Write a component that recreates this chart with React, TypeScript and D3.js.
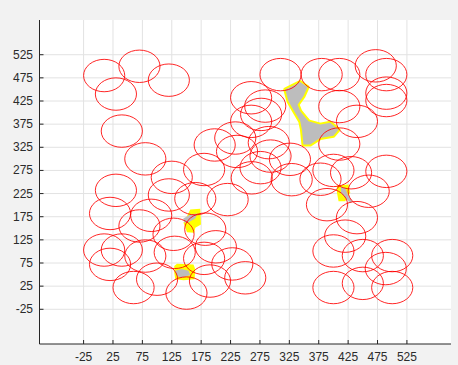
import React from 'react';
import * as d3 from 'd3';

// Sensor disk centres (data units); every disk has the same radius.
const circleX = [
  10, 70, 120, 30, 40, 80,
  125, 30, 20, 90, 70, 120,
  10, 40, 130, 20, 80, 60, 100, 150, 128,
  190, 250, 228, 180, 200, 182, 165, 220,
  180, 236, 276, 261, 293, 326, 329, 198, 233, 290, 260, 277, 284, 260, 310,
  380, 410, 472, 490, 490, 490, 410, 440, 410, 378, 400, 430, 490,
  460, 389, 440, 420, 400, 450, 500, 489, 400, 450, 500,
];
const circleY = [
  480, 500, 470, 440, 360, 300,
  260, 232, 182, 178, 155, 222,
  103, 103, 98, 72, 90, 22, 40, 10, 137,
  36, 43, 73, 85, 110, 148, 214, 212,
  277, 316, 281, 259, 306, 299, 255, 330, 345, 335, 381, 396, 414, 432, 482,
  482, 482, 501, 482, 442, 426, 413, 381, 332, 256, 275, 270, 273,
  230, 201, 173, 133, 101, 91, 91, 63, 22, 31, 22,
];
const RADIUS = 35;

const tickValues = [-25, 25, 75, 125, 175, 225, 275, 325, 375, 425, 475, 525];

// Coverage holes (uncovered area) and their highlighted neighbourhoods.
const holeLarge: [number, number][] = [
  [343.5, 466], [356, 455], [349, 435], [339, 417], [343.5, 403], [357.6, 381],
  [377.6, 374], [394.6, 378], [408.7, 363], [400, 350], [377.6, 345], [360.5, 331],
  [349, 331], [346.4, 363], [343.5, 381], [335, 399], [323.6, 424], [318, 450],
];
const holeSmallA: [number, number][] = [
  [131, 58], [142, 62], [153.6, 58], [156.5, 49], [142, 43.4], [133.8, 47],
];
const holeSmallB: [number, number][] = [
  [144.6, 171.3], [156.5, 180], [168.4, 182], [165, 171.3], [153, 162.7], [146, 162.7],
];
const holeSmallC: [number, number][] = [
  [412.7, 239.7], [420, 237.5], [425.7, 219.4], [433.2, 207.3], [428.6, 205.2],
  [420, 216], [412.7, 226.7],
];
const patchA: [number, number][] = [
  [129.2, 68.4], [133.8, 73.6], [162, 72], [165, 61.3], [163.8, 39.7], [145, 37.6],
  [131, 39.7], [129.2, 54.2],
];
const patchB: [number, number][] = [
  [156.5, 190.7], [173.5, 192.2], [174.7, 158.3], [165, 151.2], [163.3, 140.4],
  [150.8, 141.7], [145, 162], [150.8, 176],
];
const patchC: [number, number][] = [
  [406, 242.5], [425.7, 244.6], [428.6, 226.7], [420, 208.6], [408.7, 208.6], [406, 226.7],
];

export default function App() {
  const W = 458;
  const H = 365;
  const left = 39.5;
  const right = 451;
  const top = 20;
  const bottom = 344;

  const x = d3.scaleLinear().domain([-100, 600]).range([left, right]);
  const y = d3.scaleLinear().domain([-100, 600]).range([bottom, top]);

  const rx = x(RADIUS) - x(0);
  const ry = y(0) - y(RADIUS);

  const poly = d3
    .line<[number, number]>()
    .x((d) => x(d[0]))
    .y((d) => y(d[1]))
    .curve(d3.curveLinearClosed);

  const font = '"Liberation Sans", Arial, Helvetica, sans-serif';
  const textColor = '#2b2b2b';
  const axisColor = '#262626';
  const gridColor = '#e2e2e2';
  const holeGray = '#bdbdbd';
  const yellow = '#ffff00';

  return (
    <svg
      width={W}
      height={H}
      style={{ position: 'absolute', left: 0, top: 0 }}
      xmlns="http://www.w3.org/2000/svg"
    >
      <rect x={0} y={0} width={W} height={H} fill="#f2f2f2" />
      <rect x={left} y={top} width={right - left} height={bottom - top} fill="#ffffff" />

      {/* grid */}
      {tickValues.map((t) => (
        <line key={'gx' + t} x1={x(t)} x2={x(t)} y1={top} y2={bottom} stroke={gridColor} strokeWidth={1} />
      ))}
      {tickValues.map((t) => (
        <line key={'gy' + t} x1={left} x2={right} y1={y(t)} y2={y(t)} stroke={gridColor} strokeWidth={1} />
      ))}

      {/* highlighted neighbourhoods of the holes */}
      {[patchA, patchB, patchC].map((p, i) => (
        <path key={'p' + i} d={poly(p) ?? ''} fill={yellow} />
      ))}
      <path d={poly(holeLarge) ?? ''} fill={yellow} stroke={yellow} strokeWidth={4} strokeLinejoin="round" />

      {/* uncovered holes */}
      {[holeLarge, holeSmallA, holeSmallB, holeSmallC].map((p, i) => (
        <path key={'h' + i} d={poly(p) ?? ''} fill={holeGray} />
      ))}

      {/* sensing disks */}
      {circleX.map((cx, i) => (
        <ellipse
          key={'c' + i}
          cx={x(cx)}
          cy={y(circleY[i])}
          rx={rx}
          ry={ry}
          fill="none"
          stroke="#ff0000"
          strokeOpacity={0.85}
          strokeWidth={1}
        />
      ))}

      {/* axes */}
      <line x1={left} x2={left} y1={top} y2={bottom} stroke={axisColor} strokeWidth={1} />
      <line x1={left} x2={right} y1={bottom} y2={bottom} stroke={axisColor} strokeWidth={1} />
      {tickValues.map((t) => (
        <line key={'tx' + t} x1={x(t)} x2={x(t)} y1={bottom} y2={bottom - 4} stroke={axisColor} strokeWidth={1} />
      ))}
      {tickValues.map((t) => (
        <line key={'ty' + t} x1={left} x2={left + 4} y1={y(t)} y2={y(t)} stroke={axisColor} strokeWidth={1} />
      ))}

      {tickValues.map((t) => (
        <text
          key={'lx' + t}
          x={x(t)}
          y={361}
          textAnchor="middle"
          fontFamily={font}
          fontSize={12}
          fill={textColor}
        >
          {t}
        </text>
      ))}
      {tickValues.map((t) => (
        <text
          key={'ly' + t}
          x={33}
          y={y(t) + 4}
          textAnchor="end"
          fontFamily={font}
          fontSize={12}
          fill={textColor}
        >
          {t}
        </text>
      ))}
    </svg>
  );
}
